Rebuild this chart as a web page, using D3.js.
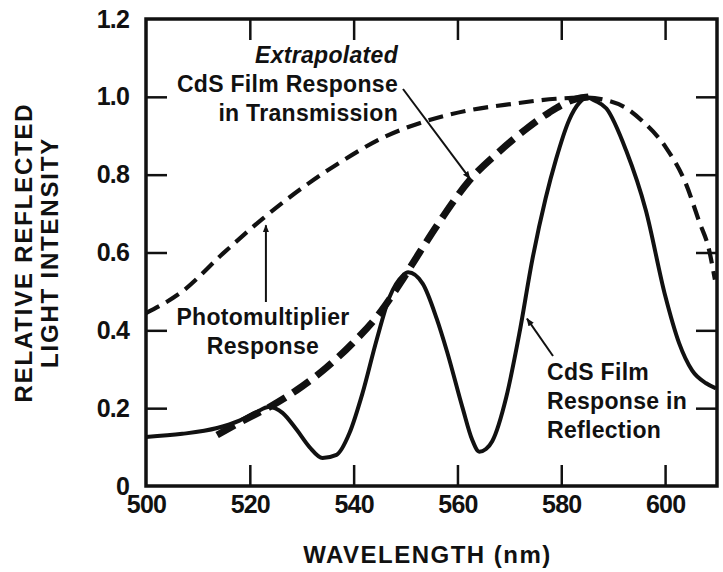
<!DOCTYPE html>
<html>
<head>
<meta charset="utf-8">
<script src="https://cdn.jsdelivr.net/npm/d3@7"></script>
<style>
  body { margin: 0; background: #fff; }
  svg text { font-family: "Liberation Sans", Arial, Helvetica, sans-serif; font-weight: bold; fill: #111; }
</style>
</head>
<body>
<div id="chart"></div>
<script>
// values
const xTickLabels = [500, 520, 540, 560, 580, 600];
const xTickMarks = [520, 540, 560, 580, 600];
const yTickLabels = [0, 0.2, 0.4, 0.6, 0.8, 1.0, 1.2];
const yTickMarks = [0.2, 0.4, 0.6, 0.8, 1.0];

const wlReflection = [500, 507, 513.7, 518, 521.3, 523.6, 526.3, 529, 531.5, 534, 536.7, 539.2, 541.7, 544.4, 546.9, 549.4, 550.5, 553.3, 556, 558, 561, 562.8, 564.2, 565.5, 566.7, 569.4, 571.9, 574.4, 577, 579, 581.5, 583.5, 585, 586.5, 588.7, 592.5, 596.3, 600, 602.7, 605.2, 607.9, 609.8];
const valReflection = [0.126, 0.134, 0.149, 0.168, 0.19, 0.203, 0.188, 0.145, 0.1, 0.072, 0.08, 0.136, 0.238, 0.374, 0.485, 0.54, 0.549, 0.52, 0.43, 0.345, 0.2, 0.12, 0.088, 0.095, 0.115, 0.228, 0.39, 0.58, 0.74, 0.84, 0.94, 0.985, 0.998, 0.99, 0.97, 0.862, 0.708, 0.49, 0.367, 0.297, 0.264, 0.251];

const wlPhotomult = [500, 507, 514.8, 522.5, 530.2, 537.9, 545.6, 553.3, 561.7, 570.6, 579, 585, 589, 592, 595.6, 600.2, 604, 606.5, 608.5, 609.6];
const valPhotomult = [0.444, 0.50, 0.597, 0.687, 0.767, 0.836, 0.895, 0.935, 0.964, 0.982, 0.995, 0.998, 0.99, 0.975, 0.938, 0.869, 0.777, 0.682, 0.605, 0.53];

const wlTransmission = [513.7, 520, 523.8, 529, 534.8, 539.8, 545, 549.4, 552.7, 557.1, 562.3, 568.1, 573.3, 577.7, 582.9, 585.5];
const valTransmission = [0.131, 0.177, 0.203, 0.246, 0.305, 0.367, 0.444, 0.53, 0.6, 0.69, 0.785, 0.86, 0.918, 0.96, 0.995, 1.0];

const W = 723, H = 572;
const margin = {top: 19, right: 6, bottom: 86, left: 146};

const svg = d3.select("#chart").append("svg")
    .attr("width", W)
    .attr("height", H);

const x = d3.scaleLinear().domain([500, 610]).range([margin.left, W - margin.right]);
const y = d3.scaleLinear().domain([0, 1.2]).range([H - margin.bottom, margin.top]);

const fmt = d => d === 0 ? "0" : d3.format(".1f")(d);

// tick labels
svg.append("g")
    .attr("transform", `translate(0,${y(0)})`)
    .call(d3.axisBottom(x).tickValues(xTickLabels).tickSize(0).tickPadding(9).tickFormat(d3.format("d")))
    .call(g => g.select(".domain").remove())
    .selectAll("text").style("font-size", "25px").style("letter-spacing", "-0.8px");

svg.append("g")
    .attr("transform", `translate(${x(500)},0)`)
    .call(d3.axisLeft(y).tickValues(yTickLabels).tickSize(0).tickPadding(17).tickFormat(fmt))
    .call(g => g.select(".domain").remove())
    .selectAll("text").style("font-size", "25px").style("letter-spacing", "-0.8px");

// inward tick marks on all four sides
const tickLen = -21;
const addTicks = (axis, tr) => svg.append("g")
    .attr("transform", tr)
    .call(axis.tickSize(tickLen).tickFormat(""))
    .call(g => g.select(".domain").remove())
    .call(g => g.selectAll("line").attr("stroke", "#111").attr("stroke-width", 2.5));

addTicks(d3.axisBottom(x).tickValues(xTickMarks), `translate(0,${y(0)})`);
addTicks(d3.axisTop(x).tickValues(xTickMarks), `translate(0,${y(1.2)})`);
addTicks(d3.axisLeft(y).tickValues(yTickMarks), `translate(${x(500)},0)`);
addTicks(d3.axisRight(y).tickValues(yTickMarks), `translate(${x(610)},0)`);

// frame
svg.append("rect")
    .attr("x", x(500)).attr("y", y(1.2))
    .attr("width", x(610) - x(500)).attr("height", y(0) - y(1.2))
    .attr("fill", "none").attr("stroke", "#111").attr("stroke-width", 3.5);

// curves
const line = d3.line()
    .x(d => x(d[0]))
    .y(d => y(d[1]))
    .curve(d3.curveMonotoneX);

const zip = (a, b) => a.map((v, i) => [v, b[i]]);

svg.append("path")
    .attr("d", line(zip(wlPhotomult, valPhotomult)))
    .attr("fill", "none").attr("stroke", "#111")
    .attr("stroke-width", 4.2).attr("stroke-dasharray", "15,8");

svg.append("path")
    .attr("d", line(zip(wlTransmission, valTransmission)))
    .attr("fill", "none").attr("stroke", "#111")
    .attr("stroke-width", 7).attr("stroke-dasharray", "20,9");

svg.append("path")
    .attr("d", line(zip(wlReflection, valReflection)))
    .attr("fill", "none").attr("stroke", "#111")
    .attr("stroke-width", 4);

// arrowheads
svg.append("defs").append("marker")
    .attr("id", "arrow")
    .attr("viewBox", "0 0 10 10")
    .attr("refX", 9).attr("refY", 5)
    .attr("markerWidth", 8).attr("markerHeight", 8)
    .attr("markerUnits", "userSpaceOnUse")
    .attr("orient", "auto")
  .append("path")
    .attr("d", "M0,1 L10,5 L0,9 z")
    .attr("fill", "#111");

const arrow = (x1, y1, x2, y2) => svg.append("line")
    .attr("x1", x1).attr("y1", y1).attr("x2", x2).attr("y2", y2)
    .attr("stroke", "#111").attr("stroke-width", 2)
    .attr("marker-end", "url(#arrow)");

arrow(403, 89, x(562.4), y(0.79));
arrow(x(523.1), 302, x(523.1), y(0.67));
arrow(553, 356, x(573.4), y(0.43));

// annotations
const label = (lines, xPos, yPos, anchor) => {
  const t = svg.append("text")
      .attr("text-anchor", anchor)
      .style("font-size", "23px")
      .style("letter-spacing", "0.3px");
  lines.forEach((s, i) => {
    const ts = t.append("tspan").attr("x", xPos).attr("y", yPos + i * 29).text(s);
    if (s === "Extrapolated") ts.style("font-style", "italic");
  });
};

label(["Extrapolated", "CdS Film Response", "in Transmission"], 398, 63, "end");
label(["Photomultiplier", "Response"], 263, 325, "middle");
label(["CdS Film", "Response in", "Reflection"], 547, 380, "start");

// axis titles
svg.append("text")
    .attr("x", (x(500) + x(610)) / 2 - 4)
    .attr("y", 563)
    .attr("text-anchor", "middle")
    .style("font-size", "24px")
    .style("letter-spacing", "1.5px")
    .text("WAVELENGTH (nm)");

const yMid = (y(0) + y(1.2)) / 2;
svg.append("text")
    .attr("transform", `translate(32,${yMid}) rotate(-90)`)
    .attr("text-anchor", "middle")
    .style("font-size", "24px")
    .style("letter-spacing", "1.8px")
    .text("RELATIVE REFLECTED");

svg.append("text")
    .attr("transform", `translate(58,${yMid}) rotate(-90)`)
    .attr("text-anchor", "middle")
    .style("font-size", "24px")
    .style("letter-spacing", "1.8px")
    .text("LIGHT INTENSITY");
</script>
</body>
</html>
